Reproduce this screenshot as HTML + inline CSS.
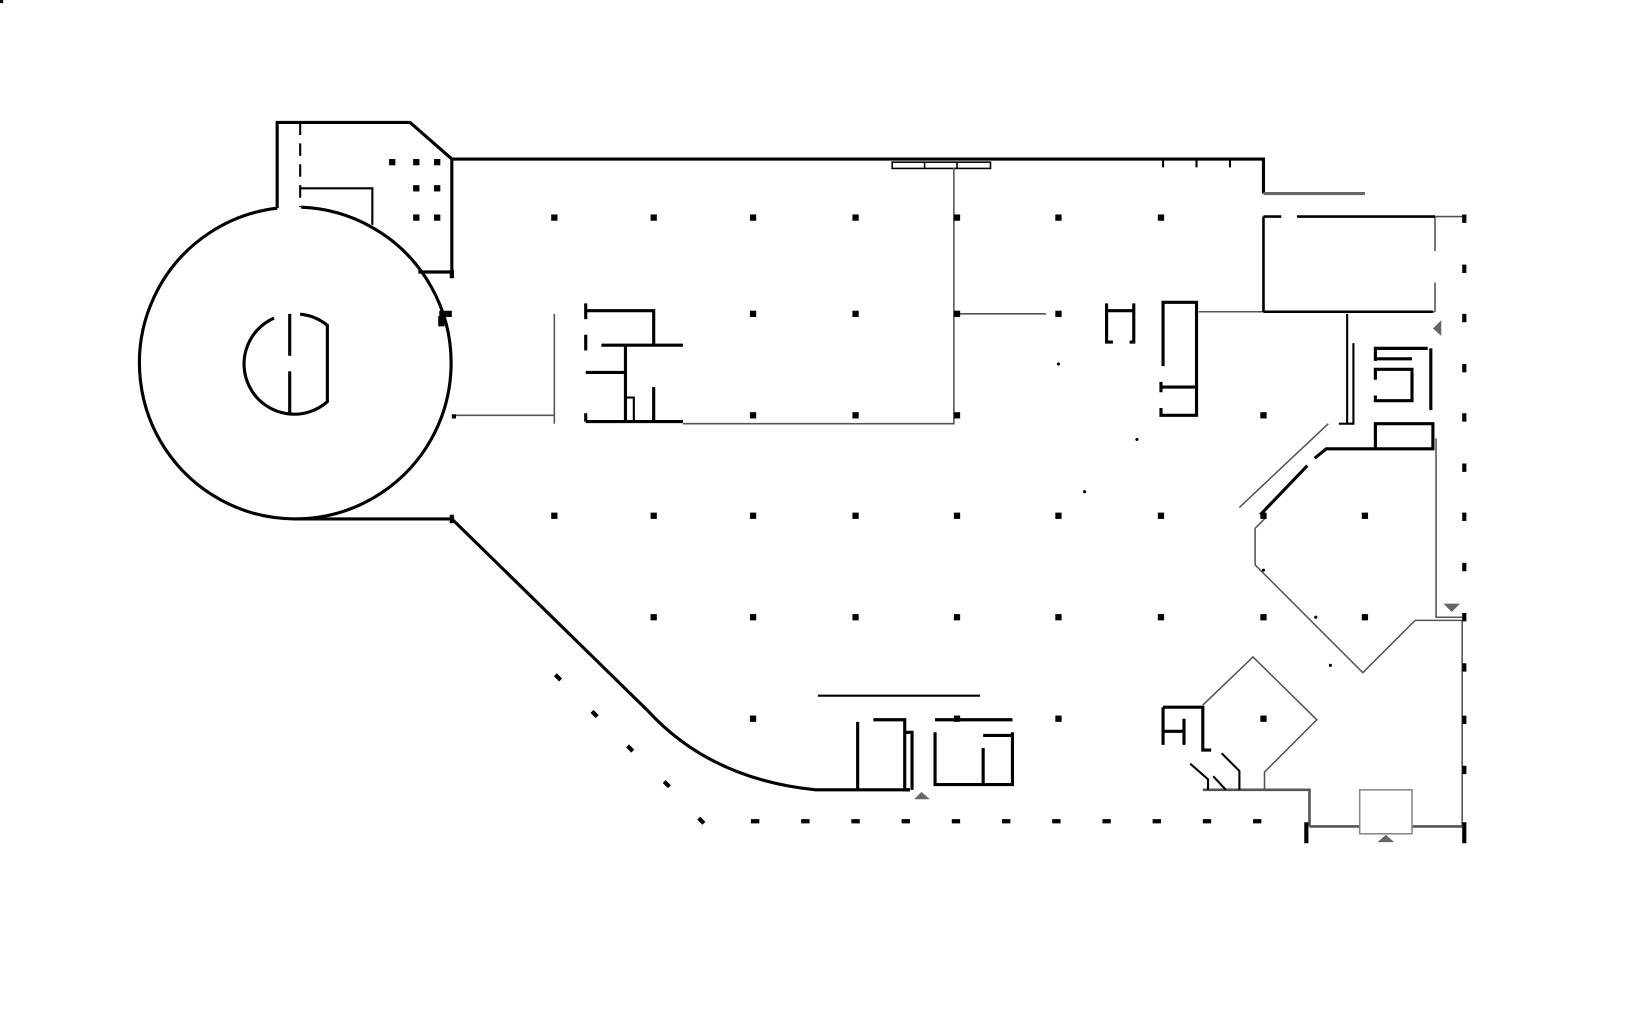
<!DOCTYPE html>
<html><head><meta charset="utf-8"><style>html,body{margin:0;padding:0;background:#fff}svg{display:block}</style></head>
<body>
<svg width="1640" height="1020" viewBox="0 0 1568 975" preserveAspectRatio="none" xmlns="http://www.w3.org/2000/svg">
<rect width="1568" height="975" fill="#fff"/>
<g fill="none" stroke="#000" stroke-width="3">
<!-- rotunda -->
<path d="M265,199 A149,149 0 1 0 288,198.1" />
<path d="M277,300 L277,340 M277,355 L277,395" stroke-width="3"/>
<path d="M287,300.3 A48,48 0 0 1 313,311 L313,384 A48,48 0 1 1 262,304"/>
<!-- annex -->
<path d="M265,199 L265,117 L392,117 L432,152 L432,260 L400,260"/>
<path d="M287,117 L287,198" stroke-dasharray="12,8" stroke-width="2"/>
<path d="M287,180 L356,180 L356,215" stroke-width="2"/>
<path d="M420,300 l12,0 M422,302 l0,10" stroke-width="6"/>
<!-- top wall -->
<path d="M432,152 L1208,152 L1208,185"/>
<path d="M1208,185 L1305,185" stroke="#666"/>
<path d="M1144,152 l0,8 M1176,152 l0,8 M1112,152 l0,8" stroke-width="2"/>
<rect x="853" y="155" width="94" height="6" stroke-width="1.5"/>
<path d="M884,155 v6 M915,155 v6" stroke-width="1.5"/>
<!-- bottom outer wall -->
<path d="M282,496 L432,496 L620,680 Q680,745 780,755 L870,755"/>
</g>
<g fill="none" stroke="#555" stroke-width="1.5">
<path d="M432,397 L530,397"/>
<path d="M530,300 L530,405"/>
<path d="M653,405 L912,405 L912,160"/>
<path d="M912,300 L1000,300"/>
<path d="M1146,298 L1372,298"/>
<path d="M1373,419 L1373,590 L1398,590"/>
<path d="M1270,405 L1185,485"/>
<path d="M1210,495 L1200,505 L1200,540 L1303,643 L1353,593 L1398,593 L1398,790"/>
<path d="M1150,674 L1198,628 L1259,688 L1209,738 L1209,755"/>
<path d="M1252,790 L1300,790 M1350,790 L1398,790" stroke-width="2.5"/>
<rect x="1300" y="755" width="50" height="42" stroke="#888"/>
<path d="M1150,755 L1252,755 L1252,790" stroke-width="2.5"/>
<path d="M1372,207 L1400,207"/>
<path d="M1372,207 L1372,240 M1372,270 L1372,298" />
</g>
<g fill="none" stroke="#000" stroke-width="3">
<path d="M560,290 L560,305 M560,297 L625,297 L625,330 M575,330 L653,330 M598,330 L598,403 M560,320 L560,335 M560,356 L598,356 M560,403 L653,403 M625,370 L625,403 M560,395 L560,403"/>
<rect x="598" y="380" width="8" height="23" stroke-width="2"/>
<path d="M1208,207 L1225,207 M1240,207 L1372,207 M1208,207 L1208,298 M1208,298 L1370,298" stroke-width="2.5"/>
<path d="M1058,290 L1058,327 L1064,327 M1058,297 L1084,297 M1084,290 L1084,327 L1080,327"/>
<path d="M1112,350 L1112,289 L1144,289 L1144,397 L1110,397 L1110,390 M1110,370 L1144,370 M1110,365 L1110,375"/>
<path d="M1288,300 L1288,405 M1294,328 L1294,405 L1280,405" stroke-width="2"/>
<path d="M1365,333 L1315,333 L1315,345 M1315,343 L1350,343 M1368,333 L1368,392"/>
<path d="M1315,363 L1315,353 L1350,353 L1350,383 L1315,383 L1315,378"/>
<path d="M1315,429 L1315,405 L1370,405 L1370,429 L1268,429 L1257,438"/>
<path d="M1250,445 L1205,492" />
<path d="M782,665 L937,665" stroke-width="2"/>
<path d="M820,690 L820,755 M835,688 L865,688 L865,755 L870,755 M865,700 L872,700 L872,755 M894,688 L968,688 M894,700 L894,750 L968,750 L968,700 M940,703 L968,703 M940,715 L940,750"/>
<path d="M1112,676 L1150,676 L1150,717 L1158,717 M1112,676 L1112,712 M1112,699 L1132,699 M1132,687 L1132,712"/>
<path d="M1160,742 L1172,755 M1168,720 L1185,737 L1185,755 M1138,730 L1155,745 L1155,755" stroke-width="2"/>
</g>
<g fill="#000">
<g id="c"><rect x="-3" y="-3" width="6" height="6"/></g>
<use href="#c" x="530" y="208"/><use href="#c" x="625" y="208"/><use href="#c" x="720" y="208"/><use href="#c" x="818" y="208"/><use href="#c" x="915" y="208"/><use href="#c" x="1012" y="208"/><use href="#c" x="1110" y="208"/>
<use href="#c" x="720" y="300"/><use href="#c" x="818" y="300"/><use href="#c" x="915" y="300"/><use href="#c" x="1012" y="300"/>
<use href="#c" x="720" y="397"/><use href="#c" x="818" y="397"/><use href="#c" x="915" y="397"/><use href="#c" x="1208" y="397"/>
<use href="#c" x="530" y="493"/><use href="#c" x="625" y="493"/><use href="#c" x="720" y="493"/><use href="#c" x="818" y="493"/><use href="#c" x="915" y="493"/><use href="#c" x="1012" y="493"/><use href="#c" x="1110" y="493"/><use href="#c" x="1208" y="493"/><use href="#c" x="1305" y="493"/>
<use href="#c" x="625" y="590"/><use href="#c" x="720" y="590"/><use href="#c" x="818" y="590"/><use href="#c" x="915" y="590"/><use href="#c" x="1012" y="590"/><use href="#c" x="1110" y="590"/><use href="#c" x="1208" y="590"/><use href="#c" x="1305" y="590"/>
<use href="#c" x="720" y="687"/><use href="#c" x="915" y="687"/><use href="#c" x="1012" y="687"/><use href="#c" x="1208" y="687"/>
<use href="#c" x="375" y="155"/><use href="#c" x="398" y="155"/><use href="#c" x="418" y="155"/><use href="#c" x="398" y="180"/><use href="#c" x="418" y="180"/><use href="#c" x="398" y="208"/><use href="#c" x="418" y="208"/>
<circle cx="1012" cy="348" r="1.5"/><circle cx="1037" cy="470" r="1.5"/><circle cx="1087" cy="420" r="1.5"/><circle cx="1208" cy="545" r="1.5"/><circle cx="1258" cy="590" r="1.5"/><circle cx="1272" cy="636" r="1.5"/>
<g stroke="#000" stroke-width="4">
<path d="M531,645 l5,5 M566,680 l5,5 M600,713 l5,5 M635,747 l5,5 M668,782 l5,5"/>
<path d="M718,785 h8 M766,785 h8 M814,785 h8 M862,785 h8 M910,785 h8 M958,785 h8 M1006,785 h8 M1054,785 h8 M1102,785 h8 M1150,785 h8 M1198,785 h8"/>
<path d="M1400,205 v8 M1400,253 v8 M1400,300 v8 M1400,348 v8 M1400,395 v8 M1400,443 v8 M1400,490 v8 M1400,538 v8 M1400,586 v8 M1400,634 v8 M1400,684 v8 M1400,732 v8 M1400,786 v20 M1249,786 v20"/>
<path d="M432,492 v8 M432,258 v8 M432,398 h4"/>
</g>
</g>
<g fill="#666">
<path d="M874,764 L889,764 L881,757Z"/>
<path d="M1317,805 L1333,805 L1325,798Z"/>
<path d="M1380,577 L1396,577 L1388,585Z"/>
<path d="M1378,306 L1378,321 L1370,314Z"/>
</g>
</svg>
</body></html>
